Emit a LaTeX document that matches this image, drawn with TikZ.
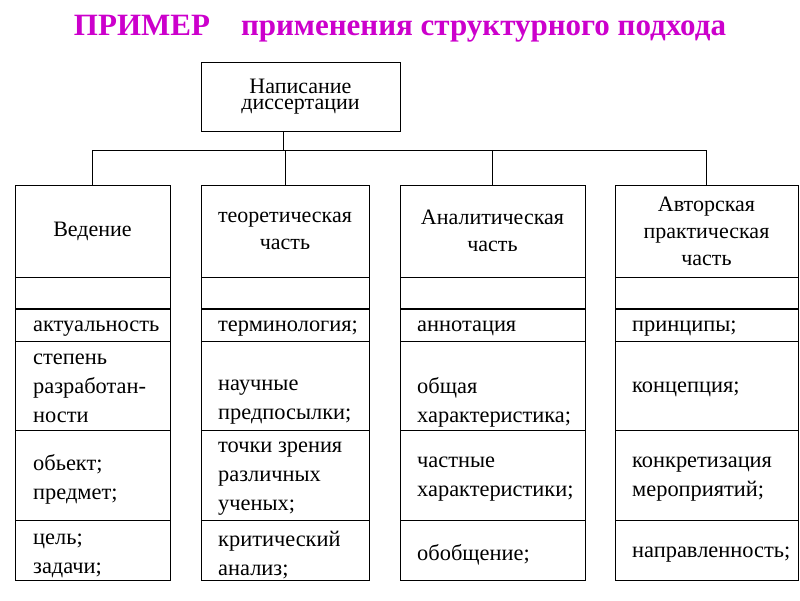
\documentclass[tikz,border=0pt]{standalone}
\usepackage{fontspec}
\setmainfont{Liberation Serif}
\definecolor{ttl}{RGB}{204,0,204}
\begin{document}
\begin{tikzpicture}[x=1pt,y=-1pt,
  box/.style={draw,line width=1pt,inner sep=0pt,align=center,font=\fontsize{22}{27}\selectfont},
  itm/.style={anchor=west,inner sep=0pt,align=left,yshift=-3.5pt,font=\fontsize{22.4}{29}\selectfont},
  ln/.style={line width=0.8pt}]
\useasboundingbox (0,0) rectangle (800,600);
\node[font=\bfseries\fontsize{31}{34}\selectfont,text=ttl] (title) at (400,29) {ПРИМЕР\quad применения структурного подхода};
\node[box,minimum width=199,minimum height=69] (top) at (300.5,96.5) {\raisebox{-6pt}{\shortstack{Написание\\[2pt]диссертации}}};
\node[box,minimum width=155,minimum height=92] (h1) at (92.5,231) {Ведение};
\node[box,minimum width=168,minimum height=92] (h2) at (285,231) {теоретическая\\часть};
\node[box,minimum width=185,minimum height=92] (h3) at (492.5,231) {Аналитическая\\часть};
\node[box,minimum width=183,minimum height=92] (h4) at (706.5,231) {Авторская\\практическая\\часть};
\coordinate (j) at (283,150);
\draw[ln] (top.south -| j) -- (j);
\draw[ln] (h1.north) -- (h1.north |- j) -- (h4.north |- j) -- (h4.north);
\draw[ln] (h2.north) -- (h2.north |- j);
\draw[ln] (h3.north) -- (h3.north |- j);
\foreach \a/\b in {15/170,201/369,400/585,615/798}{
  \draw[line width=1pt] (\a,277) rectangle (\b,309);
  \draw[line width=1pt] (\a,309) rectangle (\b,580);
  \draw[line width=1.6pt] (\a,309) -- (\b,309);
  \foreach \y in {341,430,520}{\draw[ln] (\a,\y) -- (\b,\y);}
}
\node[itm] (a1) at (33,325) {актуальность};
\node[itm] (a2) at (33,385) {степень\\разработан-\\ности};
\node[itm] (a3) at (33,476) {обьект;\\предмет;};
\node[itm] (a4) at (33,552) {цель;\\задачи;};
\node[itm] (b1) at (218,325) {терминология;};
\node[itm] (b2) at (218,399) {научные\\предпосылки;};
\node[itm] (b3) at (218,475) {точки зрения\\различных\\ученых;};
\node[itm] (b4) at (218,552) {критический\\анализ;};
\node[itm] (c1) at (417,325) {аннотация};
\node[itm] (c2) at (417,399) {общая\\характеристика;};
\node[itm] (c3) at (417,476) {частные\\характеристики;};
\node[itm] (c4) at (417,551) {обобщение;};
\node[itm] (d1) at (632,325) {принципы;};
\node[itm] (d2) at (632,386) {концепция;};
\node[itm] (d3) at (632,476) {конкретизация\\мероприятий;};
\node[itm] (d4) at (632,551) {направленность;};
\end{tikzpicture}
\end{document}
